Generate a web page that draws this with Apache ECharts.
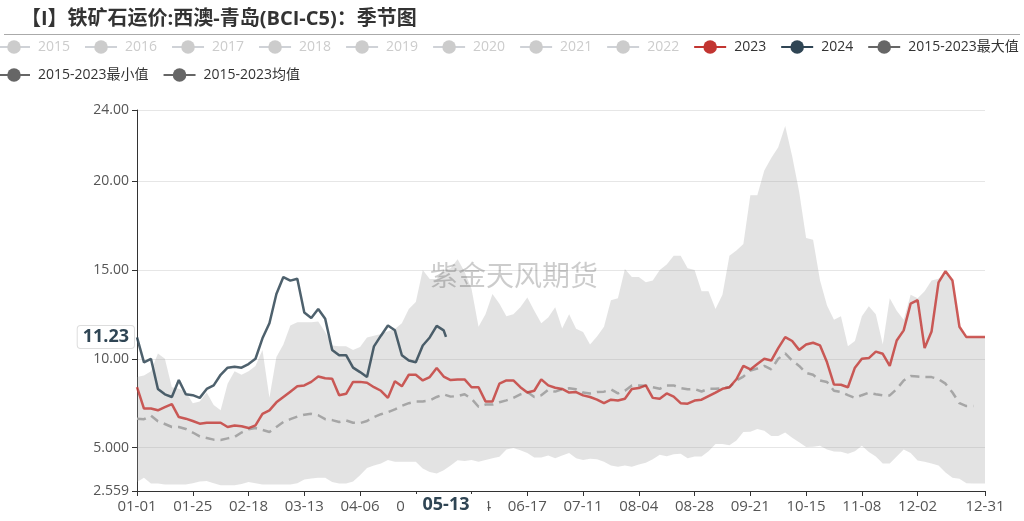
<!DOCTYPE html>
<html><head><meta charset="utf-8">
<script src="https://cdn.jsdelivr.net/npm/echarts@6/dist/echarts.min.js"></script>
<style>html,body{margin:0;padding:0;background:#fff}#c{width:1024px;height:521px}</style>
</head><body><div id="c"></div>
<script>
// ---- categories (leap-year calendar, MM-DD) ----
const monthDays = [31,29,31,30,31,30,31,31,30,31,30,31];
const categories = [];
monthDays.forEach((n, m) => { for (let d = 1; d <= n; d++) categories.push(String(m + 1).padStart(2, '0') + '-' + String(d).padStart(2, '0')); });

// values are sampled every 3rd day starting 01-01 (last sample = 12-31)
const sampleStep = 3;

const yearNames = ['2015','2016','2017','2018','2019','2020','2021','2022'];

const values2023 = [8.41,7.2,7.2,7.1,7.28,7.45,6.72,6.63,6.5,6.35,6.4,6.4,6.4,6.16,6.25,6.2,6.1,6.25,6.9,7.1,
  7.55,7.85,8.15,8.45,8.5,8.7,9.0,8.9,8.88,7.95,8.03,8.7,8.7,8.65,8.4,8.2,7.8,8.73,8.45,9.1,9.1,
  8.78,8.97,9.48,9.0,8.8,8.84,8.84,8.4,8.4,7.6,7.6,8.6,8.78,8.78,8.4,8.1,8.2,8.84,8.5,8.37,
  8.3,8.1,8.13,7.94,7.85,7.7,7.5,7.7,7.65,7.75,8.3,8.35,8.5,7.8,7.75,8.05,7.87,7.5,7.47,7.65,
  7.7,7.9,8.1,8.31,8.4,8.85,9.6,9.4,9.7,10.0,9.9,10.6,11.22,11.0,10.5,10.8,10.9,10.75,9.8,8.55,
  8.54,8.4,9.5,10.0,10.04,10.4,10.28,9.6,11.03,11.6,13.1,13.3,10.6,11.54,14.3,14.93,14.4,11.8,11.22,11.22,
  11.22,11.22];

const values2024 = [11.2,9.8,10.0,8.3,8.0,7.85,8.8,8.0,7.95,7.8,8.3,8.5,9.1,9.5,9.55,9.5,9.7,10.0,11.15,12.0,
  13.65,14.6,14.4,14.5,12.6,12.3,12.8,12.25,10.5,10.2,10.2,9.5,9.25,8.97,10.7,11.3,11.87,11.6,10.2,9.9,
  9.8,10.75,11.2,11.85,11.6];
const last2024Date = '05-13';
const last2024Value = 11.23;

const maxValues = [8.97,9.06,9.3,10.3,10.0,8.4,8.31,8.15,7.5,7.6,8.1,7.4,7.1,8.6,9.3,9.1,9.3,9.6,10.5,7.8,
  10.1,10.8,11.87,12.06,12.06,12.06,12.1,11.5,10.75,10.7,10.7,10.5,10.66,11.2,11.3,11.4,11.55,11.67,12.0,12.8,13.2,
  15.0,14.49,14.49,15.0,15.1,15.6,14.9,13.93,11.8,12.5,13.65,13.1,12.4,12.5,12.9,13.45,12.7,12.0,12.32,12.9,
  11.7,12.5,11.69,11.5,10.8,11.25,11.8,13.3,13.4,15.05,14.6,14.6,14.3,14.4,15.0,15.3,15.8,15.8,15.1,15.0,
  13.8,13.8,12.8,13.6,15.8,16.1,16.46,19.2,19.2,20.6,21.3,21.9,23.1,21.4,19.4,16.8,16.7,14.4,13.0,12.2,
  12.4,10.7,11.0,12.4,12.95,12.5,10.8,13.4,12.7,12.2,13.6,13.4,13.8,14.4,14.5,14.93,14.4,11.8,11.22,11.22,
  11.22,11.22];

const minValues = [3.07,3.3,2.98,2.98,2.92,2.92,2.92,2.92,3.0,3.1,3.12,3.0,2.88,2.88,2.88,2.95,3.07,3.0,2.92,2.92,
  2.92,2.92,2.92,3.0,3.2,3.26,3.3,3.3,3.07,2.98,2.98,3.1,3.45,3.86,4.0,4.1,4.3,4.2,4.2,4.2,4.2,
  3.82,3.63,3.54,3.73,4.0,4.29,4.25,4.3,4.2,4.3,4.4,4.48,4.9,4.98,4.85,4.7,4.45,4.45,4.55,4.4,
  4.55,4.7,4.4,4.3,4.38,4.35,4.2,4.0,3.92,4.0,3.92,4.05,4.15,4.35,4.6,4.52,4.63,4.66,4.4,4.5,
  4.5,4.8,5.2,5.2,5.13,5.4,5.88,5.9,6.05,5.95,5.66,5.66,5.85,5.55,5.3,5.04,5.05,5.1,4.9,4.78,
  4.77,4.65,4.8,5.1,4.75,4.5,4.1,4.1,4.5,4.9,4.7,4.27,4.2,4.1,4.0,3.6,3.3,3.25,3.0,2.98,
  2.98,2.98];

const meanValues = [6.63,6.6,6.8,6.48,6.33,6.16,6.16,6.05,5.85,5.63,5.54,5.45,5.43,5.52,5.6,5.85,6.03,6.1,6.0,5.88,
  6.16,6.44,6.6,6.75,6.85,6.9,6.82,6.6,6.55,6.44,6.53,6.4,6.38,6.5,6.72,6.88,7.0,7.15,7.35,7.5,7.6,
  7.6,7.66,7.85,8.0,7.87,7.9,8.0,7.75,7.3,7.42,7.42,7.55,7.66,7.8,8.0,8.13,7.85,7.95,8.25,8.15,
  8.28,8.34,8.28,8.1,8.05,8.13,8.15,8.28,8.05,8.2,8.5,8.5,8.48,8.4,8.31,8.5,8.5,8.35,8.28,8.3,
  8.16,8.31,8.31,8.35,8.4,8.78,9.0,9.34,9.45,9.6,9.4,10.0,10.3,9.9,9.6,9.2,9.1,8.78,8.69,8.2,
  8.13,7.95,7.8,7.95,8.09,8.0,7.94,7.94,8.3,8.78,9.03,9.0,8.97,8.97,8.85,8.6,8.1,7.5,7.34,7.34];

// ---- helpers ----
const lastIdx = categories.length - 1;
function toPairs(arr) {
  return arr.map((v, k) => [categories[Math.min(k * sampleStep, lastIdx)], v]);
}
const bandValues = maxValues.map((v, k) => +(v - minValues[k]).toFixed(3));
const data2024 = toPairs(values2024).concat([[last2024Date, last2024Value]]);
const pointerIdx = categories.indexOf(last2024Date);

function showTick(idx) { return (idx % 24 === 0 && idx !== 360) || idx === lastIdx; }

const FONT = "'Open Sans','Noto Sans CJK SC',sans-serif";
const chart = echarts.init(document.getElementById('c'));

const legendData = yearNames.map(n => ({ name: n }))
  .concat([
    { name: '2023', itemStyle: { color: '#c23531' }, lineStyle: { color: '#c23531', width: 2, opacity: 1, type: 'solid' } },
    { name: '2024', itemStyle: { color: '#2f4554' }, lineStyle: { color: '#2f4554', width: 2, opacity: 1, type: 'solid' } },
    { name: '2015-2023最大值', itemStyle: { color: '#666' }, lineStyle: { color: '#666', width: 2, opacity: 1, type: 'solid' } },
    { name: '2015-2023最小值', itemStyle: { color: '#666' }, lineStyle: { color: '#666', width: 2, opacity: 1, type: 'solid' } },
    { name: '2015-2023均值', itemStyle: { color: '#666' }, lineStyle: { color: '#666', width: 2, opacity: 1, type: 'solid' } }
  ]);
const selected = {};
yearNames.forEach(n => selected[n] = false);

const option = {
  animation: false,
  backgroundColor: '#fff',
  textStyle: { fontFamily: FONT },
  title: {
    text: '【I】铁矿石运价:西澳-青岛(BCI-C5)：季节图',
    left: 16, top: 4,
    textStyle: { fontSize: 20, fontWeight: 'bold', color: '#333', fontFamily: FONT }
  },
  graphic: [
    { type: 'line', shape: { x1: 4, y1: 34.5, x2: 1020, y2: 34.5 }, style: { stroke: '#aaa', lineWidth: 1 }, silent: true },
    { type: 'text', x: 514, y: 275, z: 100, silent: true,
      style: { text: '紫金天风期货', fontSize: 28, fontFamily: "'Noto Sans CJK SC',sans-serif", fill: 'rgba(0,0,0,0.2)', align: 'center', verticalAlign: 'middle' } }
  ],
  legend: {
    left: -3, top: 40, width: 1040, padding: 0,
    itemWidth: 32, itemHeight: 17, itemGap: 14,
    inactiveColor: '#ccc',
    textStyle: { fontSize: 14, color: '#333', fontFamily: FONT, padding: [0, 0, 0, 3] },
    selected: selected,
    data: legendData
  },
  grid: { left: 137, right: 39, top: 110, bottom: 30 },
  xAxis: {
    type: 'category', data: categories, boundaryGap: false,
    axisLine: { lineStyle: { color: '#333' } },
    axisTick: { interval: showTick, lineStyle: { color: '#333' } },
    axisLabel: { interval: showTick, color: '#555', fontSize: 15, fontFamily: FONT },
    splitLine: { show: false },
    axisPointer: {
      show: true, type: 'line', value: pointerIdx, status: 'show', triggerTooltip: false,
      lineStyle: { opacity: 0 },
      label: { show: true, fontWeight: 'bold', fontSize: 18, color: '#2f4554', backgroundColor: '#fff', padding: [2, 18, 2, 18], fontFamily: FONT }
    }
  },
  yAxis: {
    type: 'value', min: 2.559, max: 24, splitNumber: 5,
    axisLine: { show: true, lineStyle: { color: '#333' } },
    axisTick: { show: true, lineStyle: { color: '#333' } },
    axisLabel: { color: '#555', fontSize: 14, fontFamily: FONT, formatter: v => v.toPrecision(4) },
    splitLine: { lineStyle: { color: '#e6e6e6' } },
    axisPointer: {
      show: true, type: 'line', value: last2024Value, status: 'show', triggerTooltip: false,
      lineStyle: { opacity: 0 },
      label: { show: true, precision: 2, fontWeight: 'bold', fontSize: 18, color: '#2f4554', backgroundColor: '#fff', borderColor: '#ddd', borderWidth: 1, padding: [2, 5, 2, 5], fontFamily: FONT }
    }
  },
  series: yearNames.map(n => ({ name: n, type: 'line', data: [], symbol: 'circle', itemStyle: { color: '#ccc' } }))
    .concat([
      { name: '2015-2023最小值', type: 'line', stack: 'band', data: toPairs(minValues), symbol: 'circle', showSymbol: false,
        lineStyle: { opacity: 0 }, itemStyle: { color: '#666' } },
      { name: '2015-2023最大值', type: 'line', stack: 'band', data: toPairs(bandValues), symbol: 'circle', showSymbol: false,
        lineStyle: { opacity: 0 }, itemStyle: { color: '#666' }, areaStyle: { color: 'rgba(150,150,150,0.27)', opacity: 1 } },
      { name: '2015-2023均值', type: 'line', data: toPairs(meanValues), symbol: 'circle', showSymbol: false,
        lineStyle: { color: '#a6a6a6', width: 2.5, type: [9, 6] }, itemStyle: { color: '#666' } },
      { name: '2023', type: 'line', data: toPairs(values2023), symbol: 'circle', showSymbol: false,
        lineStyle: { color: '#c23531', width: 2.5, opacity: 0.8 }, itemStyle: { color: '#c23531' } },
      { name: '2024', type: 'line', data: data2024, symbol: 'circle', showSymbol: false,
        lineStyle: { color: '#2f4554', width: 2.5, opacity: 0.85 }, itemStyle: { color: '#2f4554' } }
    ])
};
chart.setOption(option);
</script>
</body></html>
